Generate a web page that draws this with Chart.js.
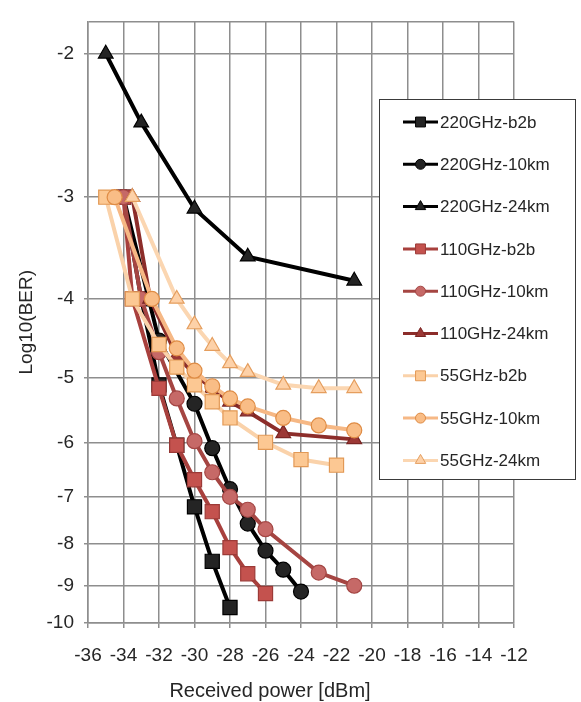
<!DOCTYPE html>
<html>
<head>
<meta charset="utf-8">
<script src="https://cdn.jsdelivr.net/npm/chart.js@4/dist/chart.umd.min.js"></script>
<style>
html,body{margin:0;padding:0;background:#ffffff;}
#wrap{width:581px;height:702px;}
</style>
</head>
<body>
<div id="wrap"><canvas id="c" width="581" height="702"></canvas></div>
<script>
// ---------- data ----------
const seriesNames = ['220GHz-b2b','220GHz-10km','220GHz-24km','110GHz-b2b','110GHz-10km','110GHz-24km','55GHz-b2b','55GHz-10km','55GHz-24km'];

const power220b2b  = [-34, -33, -32, -31, -30, -29, -28];
const ber220b2b    = [-3, -4, -5.1, -6.05, -7.2, -8.4, -9.57];

const power220km10 = [-34, -32, -30, -29, -28, -27, -26, -25, -24];
const ber220km10   = [-3, -4.5, -5.38, -6.1, -6.85, -7.55, -8.15, -8.6, -9.15];

const power220km24 = [-35, -33, -30, -27, -21];
const ber220km24   = [-2, -2.43, -3.1, -3.55, -3.8];

const power110b2b  = [-34, -33.5, -32, -31, -30, -29, -28, -27, -26];
const ber110b2b    = [-3, -4, -5.15, -6.05, -6.67, -7.3, -8.08, -8.7, -9.2];

const power110km10 = [-34, -33, -32, -31, -30, -29, -28, -27, -26, -23, -21];
const ber110km10   = [-3, -4, -4.65, -5.3, -5.98, -6.53, -7.0, -7.26, -7.67, -8.67, -9.0];

const power110km24 = [-33.5, -32.5, -31, -30, -29, -28, -27, -25, -21];
const ber110km24   = [-3, -4, -4.7, -4.95, -5.15, -5.35, -5.5, -5.85, -5.95];

const power55b2b   = [-35, -33.5, -32, -31, -30, -29, -28, -26, -24, -22];
const ber55b2b     = [-3, -4, -4.55, -4.85, -5.1, -5.35, -5.6, -6.0, -6.3, -6.4];

const power55km10  = [-34.5, -32.4, -31, -30, -29, -28, -27, -25, -23, -21];
const ber55km10    = [-3, -4, -4.6, -4.9, -5.12, -5.3, -5.42, -5.6, -5.72, -5.8];

const power55km24  = [-33.5, -31, -30, -29, -28, -27, -25, -23, -21];
const ber55km24    = [-3, -4, -4.3, -4.57, -4.8, -4.92, -5.1, -5.15, -5.15];

const xTickValues = [-36, -34, -32, -30, -28, -26, -24, -22, -20, -18, -16, -14, -12];
const yTickValues = [-2, -3, -4, -5, -6, -7, -8, -9, -10];
const yAxisMin = -10;
const yAxisMax = -1.825;

const xTitle = 'Received power [dBm]';
const yTitle = 'Log10(BER)';

// ---------- styles ----------
const seriesStyles = [
  {line:'#000000', fill:'#242424', edge:'#000000', shape:'rect'},
  {line:'#000000', fill:'#242424', edge:'#000000', shape:'circle'},
  {line:'#000000', fill:'#242424', edge:'#000000', shape:'triangle'},
  {line:'#a8403d', fill:'#c4524e', edge:'#9c3a37', shape:'rect'},
  {line:'#a54542', fill:'#c66967', edge:'#a44644', shape:'circle'},
  {line:'#8c2d2a', fill:'#9c3835', edge:'#7a2523', shape:'triangle'},
  {line:'#fad2aa', fill:'#fcc893', edge:'#e29956', shape:'rect'},
  {line:'#f6b885', fill:'#f9bd86', edge:'#df8c45', shape:'circle'},
  {line:'#fbd6b1', fill:'#fdd1a8', edge:'#e59e5e', shape:'triangle'}
];
const radiusByShape = {rect:10, circle:7.5, triangle:8.5};
const legendRadiusByShape = {rect:7, circle:5, triangle:6};
const gridColor = '#8e8e8e';
const textColor = '#262626';
const fontFamily = "'Liberation Sans', Arial, Helvetica, sans-serif";

// ---------- custom scale: position proportional to log10(-value) ----------
class NegLogScale extends Chart.LinearScale {
  getPixelForValue(value) {
    const a = Math.log10(-this.min), b = Math.log10(-this.max);
    return this.getPixelForDecimal((a - Math.log10(-value)) / (a - b));
  }
  getValueForPixel(pixel) {
    const a = Math.log10(-this.min), b = Math.log10(-this.max);
    return -Math.pow(10, a - this.getDecimalForPixel(pixel) * (a - b));
  }
}
NegLogScale.id = 'negLog';
NegLogScale.defaults = Chart.LinearScale.defaults;
Chart.register(NegLogScale);

// ---------- datasets ----------
const xs = [power220b2b, power220km10, power220km24, power110b2b, power110km10, power110km24, power55b2b, power55km10, power55km24];
const ys = [ber220b2b, ber220km10, ber220km24, ber110b2b, ber110km10, ber110km24, ber55b2b, ber55km10, ber55km24];

const datasets = seriesNames.map((name, i) => {
  const s = seriesStyles[i];
  return {
    label: name,
    data: xs[i].map((x, j) => ({x: x, y: ys[i][j]})),
    showLine: true,
    borderColor: s.line,
    borderWidth: 4,
    pointStyle: s.shape,
    pointRadius: radiusByShape[s.shape],
    pointHoverRadius: radiusByShape[s.shape],
    pointBackgroundColor: s.fill,
    pointBorderColor: s.edge,
    pointBorderWidth: 1.2,
    tension: 0,
    fill: false,
    order: seriesNames.length - i
  };
});

// ---------- plugins: legend box and x title ----------
const boxLegend = {
  id: 'boxLegend',
  afterDraw(chart) {
    const ctx = chart.ctx;
    ctx.save();
    ctx.fillStyle = '#ffffff';
    ctx.fillRect(379.5, 99.5, 196, 380);
    ctx.strokeStyle = '#3a3a3a';
    ctx.lineWidth = 1;
    ctx.strokeRect(379.5, 99.5, 196, 380);
    chart.data.datasets.forEach((ds, i) => {
      const y = 122 + i * 42.3;
      ctx.strokeStyle = ds.borderColor;
      ctx.lineWidth = 3;
      ctx.beginPath();
      ctx.moveTo(403, y);
      ctx.lineTo(438, y);
      ctx.stroke();
      ctx.fillStyle = ds.pointBackgroundColor;
      ctx.strokeStyle = ds.pointBorderColor;
      ctx.lineWidth = 1;
      Chart.helpers.drawPoint(ctx, {pointStyle: ds.pointStyle, rotation: 0, radius: legendRadiusByShape[ds.pointStyle], borderWidth: 1}, 420.5, y);
      ctx.fillStyle = textColor;
      ctx.font = '17px ' + fontFamily;
      ctx.textAlign = 'left';
      ctx.textBaseline = 'middle';
      ctx.fillText(ds.label, 440, y + 1);
    });
    // x axis title
    ctx.fillStyle = textColor;
    ctx.font = '20px ' + fontFamily;
    ctx.textAlign = 'center';
    ctx.textBaseline = 'middle';
    ctx.fillText(xTitle, 270, 691);
    ctx.restore();
  }
};

new Chart(document.getElementById('c'), {
  type: 'scatter',
  data: {datasets: datasets},
  plugins: [boxLegend],
  options: {
    responsive: false,
    animation: false,
    devicePixelRatio: 1,
    layout: {padding: {top: 10, right: 67, left: 0, bottom: 0}},
    plugins: {legend: {display: false}, tooltip: {enabled: false}, title: {display: false}},
    scales: {
      x: {
        type: 'linear',
        min: -36,
        max: -12,
        afterBuildTicks: (scale) => { scale.ticks = xTickValues.map(v => ({value: v})); },
        afterFit: (scale) => { scale.height = 79; },
        grid: {color: gridColor, lineWidth: 1.5, tickLength: 5, tickColor: gridColor, drawOnChartArea: true},
        border: {display: true, color: gridColor, width: 1.5},
        ticks: {
          autoSkip: false, maxRotation: 0, minRotation: 0, padding: 16,
          color: textColor, font: {family: fontFamily, size: 19},
          callback: (v) => String(v)
        },
        title: {display: false, text: xTitle}
      },
      y: {
        type: 'negLog',
        min: yAxisMin,
        max: yAxisMax,
        bounds: 'data',
        afterBuildTicks: (scale) => { scale.ticks = yTickValues.map(v => ({value: v})).concat([{value: yAxisMax}]); },
        afterFit: (scale) => { scale.width = 88; },
        grid: {
          color: gridColor, lineWidth: 1.5, tickLength: 4,
          tickColor: (c) => (c.tick && c.tick.value === yAxisMax) ? 'rgba(0,0,0,0)' : gridColor
        },
        border: {display: true, color: gridColor, width: 1.5},
        ticks: {
          autoSkip: false, padding: 10,
          color: textColor, font: {family: fontFamily, size: 19},
          callback: (v) => yTickValues.includes(v) ? String(v) : ''
        },
        title: {display: true, text: yTitle, color: textColor, font: {family: fontFamily, size: 19}, padding: {top: 15, bottom: 0}}
      }
    }
  }
});
</script>
</body>
</html>
